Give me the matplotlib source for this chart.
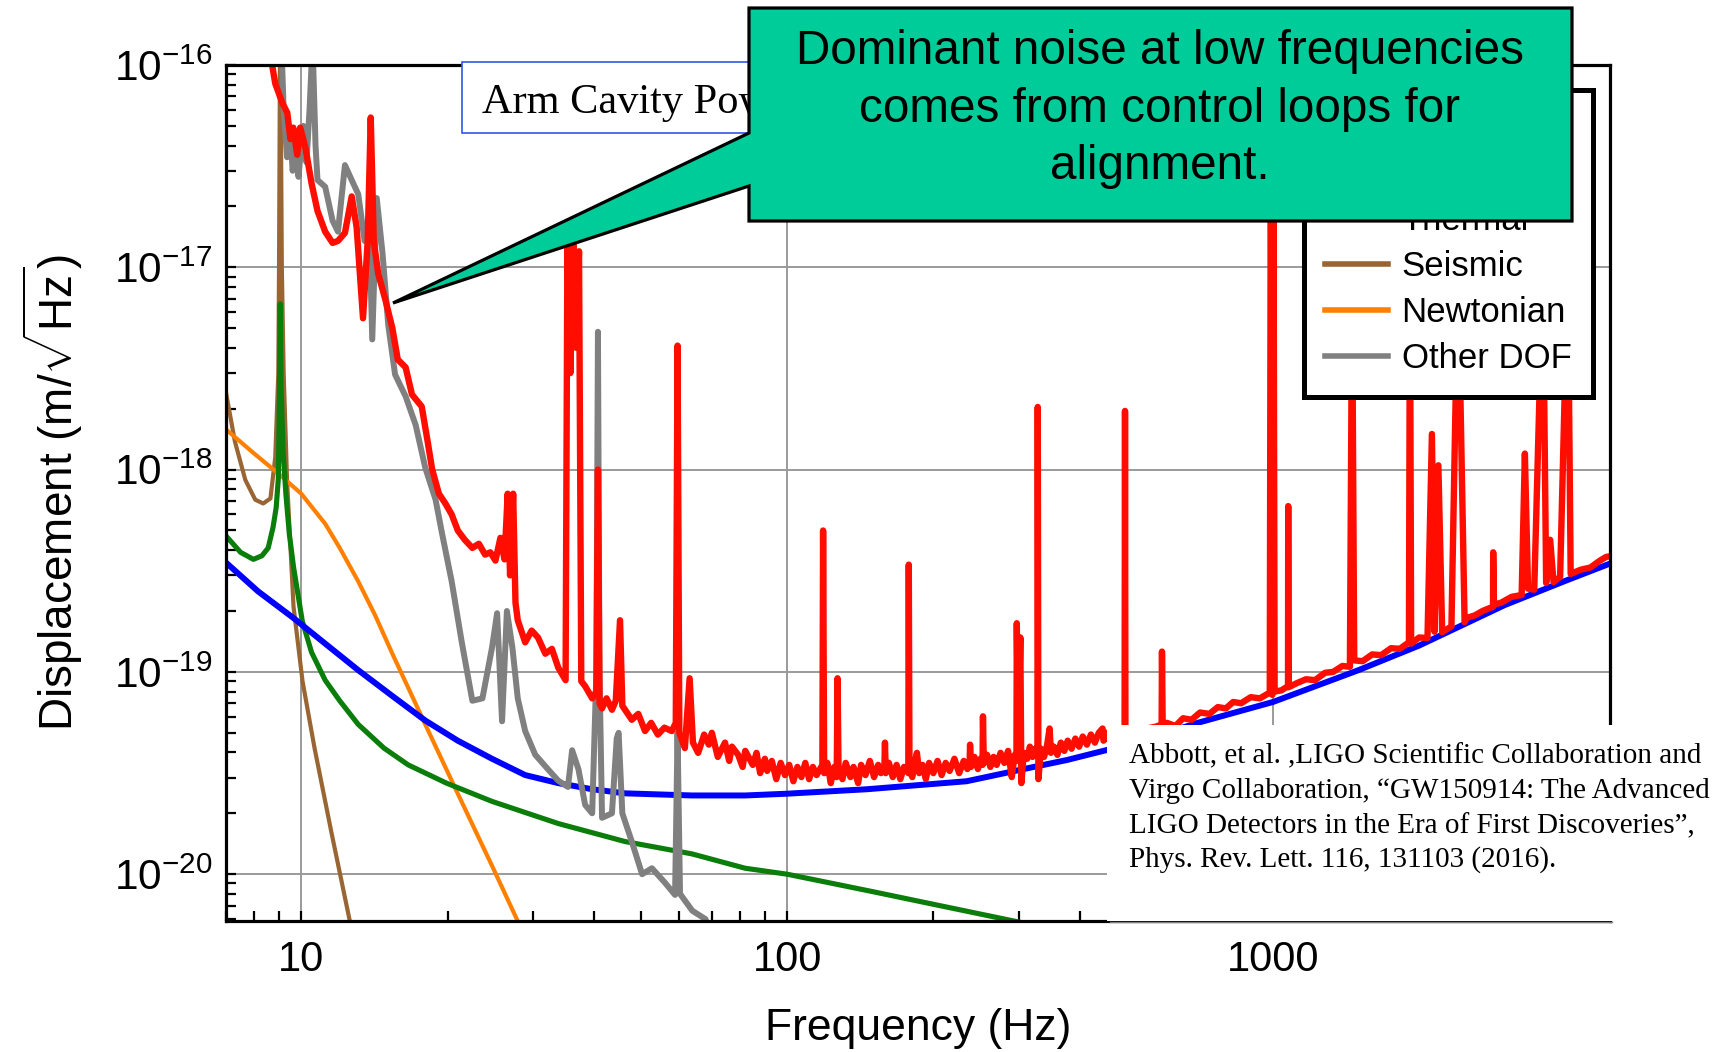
import numpy as np
import matplotlib
matplotlib.use('Agg')
import matplotlib.pyplot as plt
from matplotlib.patches import Polygon, Rectangle
from matplotlib.lines import Line2D
from matplotlib.ticker import FixedLocator, FixedFormatter, LogLocator, NullFormatter

# ---------------- data ----------------
seis_f = [7.0, 7.3, 7.67, 8.04, 8.35, 8.64, 8.84, 8.97, 9.0, 9.05, 9.12, 9.2, 9.35,
          9.64, 10.06, 10.65, 11.53, 12.6, 13.0]
seis_v = [2.4e-18, 1.38e-18, 8.9e-19, 7.1e-19, 6.8e-19, 7.2e-19, 1.15e-18, 3.0e-18, 1.0e-17,
          2.0e-16, 1.0e-17, 3.0e-18, 8.8e-19, 2.1e-19, 9.0e-20, 4.2e-20, 1.62e-20, 5.8e-21, 3.6e-21]

newt_f = [7.0, 8.0, 9.0, 10.0, 11.2, 12.0, 13.1, 14.2, 15.4, 18.0, 21.0, 24.7, 28.0, 29.0]
newt_v = [1.58e-18, 1.2e-18, 9.5e-19, 7.6e-19, 5.4e-19, 4.1e-19, 2.8e-19, 1.9e-19, 1.23e-19,
          5.5e-20, 2.5e-20, 1.1e-20, 5.75e-21, 4.9e-21]

therm_f = [7.0, 7.5, 7.97, 8.3, 8.55, 8.75, 8.88, 8.97, 9.02, 9.05, 9.09, 9.18, 9.3, 9.45,
           9.64, 10.05, 10.5, 11.2, 12.0, 13.1, 14.8, 16.6, 19.9, 24.7, 33.8, 46.4, 63.7,
           82.0, 100.0, 150.0, 200.0, 300.0]
therm_v = [4.7e-19, 3.9e-19, 3.6e-19, 3.75e-19, 4.1e-19, 5.2e-19, 6.5e-19, 9.0e-19, 2.5e-18,
           6.6e-18, 2.5e-18, 1.2e-18, 7.5e-19, 4.8e-19, 3.3e-19, 1.78e-19, 1.25e-19, 9.1e-20,
           7.2e-20, 5.5e-20, 4.2e-20, 3.47e-20, 2.82e-20, 2.29e-20, 1.78e-20, 1.45e-20,
           1.26e-20, 1.07e-20, 1.0e-20, 8.2e-21, 7.1e-21, 5.8e-21]

quant_f = [7.0, 8.15, 9.6, 11.2, 13.1, 15.4, 18.0, 21.0, 24.7, 28.9, 33.8, 39.7, 46.4, 63.7,
           82.0, 100.0, 146.0, 234.0, 320.0, 377.0, 500.0, 700.0, 1000.0, 1500.0, 2000.0,
           3000.0, 4000.0, 5000.0]
quant_v = [3.47e-19, 2.5e-19, 1.86e-19, 1.38e-19, 1.02e-19, 7.6e-20, 5.75e-20, 4.57e-20,
           3.72e-20, 3.09e-20, 2.82e-20, 2.63e-20, 2.51e-20, 2.45e-20, 2.45e-20, 2.5e-20,
           2.63e-20, 2.88e-20, 3.38e-20, 3.67e-20, 4.35e-20, 5.6e-20, 7.1e-20, 1.02e-19,
           1.35e-19, 2.14e-19, 2.82e-19, 3.47e-19]

other_f = [9.1, 9.2, 9.35, 9.5, 9.6, 9.75, 9.87, 10.0, 10.1, 10.25, 10.4, 10.55, 10.7, 10.8,
           11.2, 11.6, 11.9, 12.3, 12.7, 13.1, 13.5, 13.8, 14.0, 14.3, 14.7, 15.1, 15.6,
           16.4, 17.2, 18.0, 18.9, 19.5, 20.4, 21.4, 22.5, 23.6, 24.7, 25.3, 25.9, 26.5,
           27.2, 27.9, 28.9, 30.3, 32.2, 33.8, 35.4, 36.1, 37.2, 38.4, 39.7, 40.5, 40.8,
           41.1, 41.6, 43.6, 44.6, 45.0, 45.8, 47.9, 50.3, 52.7, 56.0, 58.8, 59.5, 60.2,
           63.8, 67.9, 70.0]
other_v = [1.3e-16, 6.0e-17, 3.5e-17, 4.5e-17, 3.0e-17, 4.2e-17, 2.8e-17, 4.0e-17, 5.0e-17,
           3.3e-17, 6.0e-17, 1.3e-16, 4.0e-17, 2.7e-17, 2.5e-17, 1.7e-17, 1.5e-17, 3.2e-17,
           2.7e-17, 2.3e-17, 1.35e-17, 1.6e-17, 4.4e-18, 2.2e-17, 1.17e-17, 5.2e-18, 2.95e-18,
           2.3e-18, 1.66e-18, 1.02e-18, 7.1e-19, 4.8e-19, 2.8e-19, 1.4e-19, 7.2e-20, 7.4e-20,
           1.32e-19, 1.95e-19, 5.7e-20, 2.0e-19, 1.32e-19, 7.4e-20, 5.1e-20, 3.9e-20, 3.3e-20,
           2.9e-20, 2.7e-20, 4.1e-20, 3.3e-20, 2.2e-20, 2.0e-20, 1.0e-19, 4.8e-18, 1.0e-19,
           1.9e-20, 2.0e-20, 4.7e-20, 5.0e-20, 2.0e-20, 1.45e-20, 1.0e-20, 1.07e-20, 9.1e-21,
           7.9e-21, 5.0e-20, 8.0e-21, 6.6e-21, 6.0e-21, 5.0e-21]

meas_f = [8.6, 8.84, 9.14, 9.36, 9.5, 9.63, 9.81, 9.95, 10.2, 10.5, 10.8, 11.2, 11.6, 11.9,
          12.3, 12.7, 13.0, 13.4, 13.7, 13.9, 14.1, 14.4, 14.9, 15.4, 15.8, 16.4, 16.9,
          17.7, 18.2, 18.6, 19.2, 19.8, 20.4, 21.0, 21.7, 22.5, 23.2, 23.9, 24.5, 25.1,
          25.7, 26.2, 26.6, 26.9, 27.3, 27.6, 27.9, 28.9, 29.8, 30.7, 31.8, 32.8, 33.8,
          35.0, 35.3, 35.8, 36.3, 36.8, 37.3, 37.7, 38.4, 39.7, 40.5, 40.8, 41.1, 41.6,
          42.5, 43.6, 44.4, 45.3, 45.8, 46.8, 47.9, 49.4, 51.0, 52.5, 54.2, 55.9, 57.9,
          59.0, 59.5, 60.0, 61.6, 63.0, 64.0, 65.6, 67.5, 69.0, 70.0, 72.0, 74.5, 76.0,
          77.0, 79.3, 81.0, 82.0, 85.0, 86.5, 88.0, 90.0, 91.0, 93.0, 95.0, 97.0, 99.0,
          101.0, 103.0, 105.0, 107.0, 109.0, 111.0, 113.0, 115.0, 118.2, 118.6, 119.2,
          121.0, 123.0, 125.0, 126.5, 127.0, 127.6, 130.0, 132.0, 135.0, 137.0, 140.0,
          142.0, 145.0, 148.0, 151.0, 154.0, 156.0, 158.6, 159.0, 159.6, 162.0, 165.0,
          168.0, 171.0, 174.0, 177.6, 178.0, 178.6, 181.0, 183.0, 185.0, 187.0, 190.0,
          193.0, 196.0, 200.0, 204.0, 208.0, 212.0, 216.0, 221.0, 226.0, 231.0, 235.0,
          237.5, 238.0, 239.0, 243.0, 247.0, 250.0, 252.5, 253.0, 254.0, 258.0, 262.0,
          266.0, 270.0, 275.0, 280.0, 285.0, 290.0, 294.0, 296.5, 297.0, 299.0, 302.0,
          303.5, 307.0, 312.0, 316.0, 320.0, 324.0, 327.5, 328.0, 329.0, 333.0, 338.0,
          343.0, 347.0, 349.0, 354.0, 360.0, 366.0, 372.0, 378.0, 385.0, 392.0, 399.0,
          406.0, 414.0, 422.0, 430.0, 438.0, 446.0, 448.0, 455.0, 463.0, 471.0, 480.0,
          488.0, 495.0, 496.0, 497.0, 505.0, 520.0, 550.0, 575.0, 590.0, 591.0, 593.0,
          605.0, 630.0, 653.0, 680.0, 708.0, 740.0, 770.0, 800.0, 828.0, 860.0, 900.0,
          940.0, 985.0, 990.0, 997.0, 1002.0, 1008.0, 1040.0, 1074.0, 1075.0, 1077.0,
          1120.0, 1170.0, 1220.0, 1280.0, 1330.0, 1390.0, 1440.0, 1455.0, 1470.0, 1530.0,
          1600.0, 1670.0, 1750.0, 1824.0, 1905.0, 1914.0, 1925.0, 2000.0, 2080.0, 2124.0,
          2150.0, 2190.0, 2230.0, 2330.0, 2404.0, 2480.0, 2506.0, 2600.0, 2700.0, 2838.0,
          2840.0, 2850.0, 2950.0, 3100.0, 3250.0, 3300.0, 3350.0, 3450.0, 3594.0, 3650.0,
          3720.0, 3780.0, 3900.0, 4045.0, 4100.0, 4300.0, 4500.0, 4710.0, 4850.0, 5000.0]
meas_v = [1.2e-16, 8.1e-17, 6.5e-17, 5.8e-17, 4.3e-17, 4.9e-17, 3.6e-17, 4.9e-17, 3.9e-17,
          2.6e-17, 1.9e-17, 1.5e-17, 1.32e-17, 1.35e-17, 1.48e-17, 2.24e-17, 1.58e-17,
          5.6e-18, 1.35e-17, 5.5e-17, 1.35e-17, 9.3e-18, 6.9e-18, 5.0e-18, 3.5e-18, 3.2e-18,
          2.35e-18, 2.05e-18, 1.38e-18, 1.0e-18, 7.6e-19, 6.8e-19, 6.0e-19, 5.0e-19, 4.5e-19,
          4.1e-19, 4.3e-19, 3.8e-19, 3.9e-19, 3.55e-19, 4.6e-19, 3.6e-19, 7.6e-19, 3.0e-19,
          7.6e-19, 2.2e-19, 1.8e-19, 1.4e-19, 1.6e-19, 1.48e-19, 1.23e-19, 1.3e-19, 1.05e-19,
          9.1e-20, 1.25e-17, 3.0e-18, 1.3e-17, 4.0e-18, 1.2e-17, 9.0e-20, 8.5e-20, 7.4e-20,
          8.0e-20, 1.0e-18, 7.0e-20, 6.6e-20, 7.4e-20, 6.5e-20, 7.2e-20, 1.8e-19, 6.8e-20,
          6.3e-20, 5.8e-20, 6.2e-20, 5.1e-20, 5.6e-20, 4.9e-20, 5.3e-20, 5.1e-20, 5.6e-20,
          4.1e-18, 5.0e-20, 4.2e-20, 9.3e-20, 4.47e-20, 3.98e-20, 4.9e-20, 4.37e-20,
          5.0e-20, 3.8e-20, 4.47e-20, 3.63e-20, 4.27e-20, 3.89e-20, 3.39e-20, 4.07e-20,
          3.47e-20, 3.98e-20, 3.16e-20, 3.72e-20, 3.24e-20, 3.63e-20, 2.95e-20, 3.55e-20,
          3.09e-20, 3.47e-20, 2.88e-20, 3.39e-20, 3.02e-20, 3.55e-20, 2.95e-20, 3.39e-20,
          3.09e-20, 3.47e-20, 5.0e-19, 3.16e-20, 3.55e-20, 2.82e-20, 3.39e-20, 3.02e-20,
          9.3e-20, 3.31e-20, 2.95e-20, 3.55e-20, 3.02e-20, 3.39e-20, 2.82e-20, 3.47e-20,
          3.09e-20, 3.63e-20, 3.02e-20, 3.47e-20, 3.16e-20, 3.39e-20, 4.47e-20, 3.16e-20,
          3.55e-20, 3.02e-20, 3.47e-20, 2.95e-20, 3.39e-20, 3.16e-20, 3.39e-19, 3.31e-20,
          3.02e-20, 3.55e-20, 3.98e-20, 3.16e-20, 3.47e-20, 2.95e-20, 3.55e-20, 3.16e-20,
          3.63e-20, 3.09e-20, 3.55e-20, 3.24e-20, 3.72e-20, 3.16e-20, 3.63e-20, 3.31e-20,
          3.55e-20, 4.37e-20, 3.39e-20, 3.8e-20, 3.31e-20, 3.72e-20, 3.47e-20, 6.03e-20,
          3.55e-20, 3.89e-20, 3.39e-20, 3.8e-20, 3.47e-20, 3.98e-20, 3.55e-20, 4.07e-20,
          3.02e-20, 3.89e-20, 3.63e-20, 1.74e-19, 3.98e-20, 1.48e-19, 2.82e-20, 3.98e-20,
          3.72e-20, 4.27e-20, 3.8e-20, 4.17e-20, 3.98e-20, 2.04e-18, 2.95e-20, 4.17e-20,
          3.8e-20, 4.37e-20, 5.25e-20, 3.98e-20, 4.27e-20, 3.89e-20, 4.47e-20, 4.07e-20,
          4.57e-20, 4.17e-20, 4.68e-20, 4.27e-20, 4.79e-20, 4.37e-20, 4.9e-20, 4.47e-20,
          5.0e-20, 5.25e-20, 4.57e-20, 5.0e-20, 4.47e-20, 5.13e-20, 4.68e-20, 5.25e-20,
          4.79e-20, 1.95e-18, 4.68e-20, 5.25e-20, 4.9e-20, 5.25e-20, 5.37e-20, 5.5e-20,
          1.26e-19, 5.37e-20, 5.6e-20, 5.4e-20, 5.9e-20, 5.8e-20, 6.3e-20, 6.2e-20, 6.7e-20,
          6.6e-20, 7.1e-20, 7.0e-20, 7.5e-20, 7.4e-20, 7.9e-20, 5.0e-17, 7.7e-20, 5.0e-17,
          8.0e-20, 8.1e-20, 8.5e-20, 6.6e-19, 8.4e-20, 8.8e-20, 9.2e-20, 9.1e-20, 9.9e-20,
          1.0e-19, 1.07e-19, 1.06e-19, 8.0e-18, 1.14e-19, 1.13e-19, 1.22e-19, 1.21e-19,
          1.31e-19, 1.3e-19, 1.4e-19, 1.0e-17, 1.38e-19, 1.48e-19, 1.47e-19, 1.5e-18,
          1.58e-19, 1.05e-18, 1.57e-19, 1.68e-19, 1.0e-17, 1.76e-19, 1.85e-19, 1.9e-19,
          2.0e-19, 2.1e-19, 3.9e-19, 2.15e-19, 2.2e-19, 2.35e-19, 2.4e-19, 1.2e-18, 2.58e-19,
          2.55e-19, 1.0e-17, 2.75e-19, 4.5e-19, 2.78e-19, 2.95e-19, 1.0e-17, 3.05e-19,
          3.2e-19, 3.28e-19, 3.55e-19, 3.7e-19, 3.75e-19]

x_ticks = [10, 100, 1000]
x_tick_labels = ['10', '100', '1000']
y_ticks = [1e-20, 1e-19, 1e-18, 1e-17, 1e-16]
y_tick_labels = [r'$\mathregular{10^{-20}}$', r'$\mathregular{10^{-19}}$',
                 r'$\mathregular{10^{-18}}$', r'$\mathregular{10^{-17}}$',
                 r'$\mathregular{10^{-16}}$']
legend_labels = ['Measured', 'Quantum', 'Thermal', 'Seismic', 'Newtonian', 'Other DOF']

# ---------------- style ----------------
plt.rcParams['font.family'] = ['Liberation Sans', 'DejaVu Sans']
plt.rcParams['mathtext.fontset'] = 'custom'
plt.rcParams['mathtext.rm'] = 'Liberation Sans'
plt.rcParams['mathtext.it'] = 'Liberation Sans:italic'
plt.rcParams['mathtext.bf'] = 'Liberation Sans:bold'

C_RED = '#ff0d00'
C_GRAY = '#808080'
C_BROWN = '#996633'
C_ORANGE = '#ff8000'
C_GREEN = '#0b7d0b'
C_BLUE = '#0000ff'

W, H = 1736, 1052
fig = plt.figure(figsize=(W / 100, H / 100), dpi=100, facecolor='white')


def fx(p):
    return p / W


def fy(p):
    return 1 - p / H


ax = fig.add_axes([fx(226), fy(921), fx(1610) - fx(226), fy(65) - fy(921)])
ax.set_xscale('log')
ax.set_yscale('log')

ax.plot(seis_f, seis_v, color=C_BROWN, lw=3.0, zorder=2)
ax.plot(newt_f, newt_v, color=C_ORANGE, lw=3.0, zorder=2.1)
ax.plot(therm_f, therm_v, color=C_GREEN, lw=3.7, zorder=2.2)
ax.plot(quant_f, quant_v, color=C_BLUE, lw=4.3, zorder=2.3)
ax.plot(other_f, other_v, color=C_GRAY, lw=4.3, zorder=2.4)
ax.plot(meas_f, meas_v, color=C_RED, lw=4.6, zorder=2.5)

ax.set_xlim(7.0, 4940)
ax.set_ylim(5.87e-21, 1e-16)

ax.xaxis.set_major_locator(FixedLocator(x_ticks))
ax.xaxis.set_major_formatter(FixedFormatter(x_tick_labels))
ax.xaxis.set_minor_locator(LogLocator(base=10, subs=np.arange(2, 10), numticks=30))
ax.xaxis.set_minor_formatter(NullFormatter())
ax.yaxis.set_major_locator(FixedLocator(y_ticks))
ax.yaxis.set_major_formatter(FixedFormatter(y_tick_labels))
ax.yaxis.set_minor_locator(LogLocator(base=10, subs=np.arange(2, 10), numticks=30))
ax.yaxis.set_minor_formatter(NullFormatter())

ax.tick_params(axis='both', which='both', direction='in', top=False, right=False,
               length=7.5, width=1.6, color='black')
ax.tick_params(axis='x', which='major', labelsize=30, pad=14)
ax.tick_params(axis='y', which='major', labelsize=30.5, pad=10)

ax.grid(True, which='major', color='#9a9a9a', lw=1.4)
ax.set_axisbelow(True)
for s in ax.spines.values():
    s.set_linewidth(2.3)
    s.set_color('black')

ax.set_xlabel('Frequency (Hz)', fontsize=32)
ax.xaxis.set_label_coords(0.5, -0.1016)
ax.set_ylabel(r'Displacement (m/$\sqrt{\mathrm{Hz}}$)', fontsize=33)
ax.yaxis.set_label_coords(-0.1017, 0.5)

handles = [Line2D([], [], color=c, lw=4.0) for c in
           [C_RED, C_BLUE, C_GREEN, C_BROWN, C_ORANGE, C_GRAY]]
leg = ax.legend(handles, legend_labels, loc='upper right',
                bbox_to_anchor=(fx(1593), fy(90)), bbox_transform=fig.transFigure,
                borderaxespad=0, fontsize=25, frameon=True, fancybox=False,
                edgecolor='black', framealpha=1, borderpad=0.62, labelspacing=0.38,
                handlelength=1.8, handletextpad=0.4)
leg.get_frame().set_linewidth(3.6)
leg.set_zorder(5)
# the first two entries sit under the call-out box in the slide
for t in leg.get_texts()[:2]:
    t.set_visible(False)

# ---------------- overlays (slide annotations) ----------------
blue_box = Rectangle((fx(462), fy(133)), fx(1000) - fx(462), fy(62) - fy(133),
                     transform=fig.transFigure, facecolor='white', edgecolor='#3355ee',
                     lw=1.2, zorder=20)
fig.add_artist(blue_box)
fig.text(fx(482), fy(113), 'Arm Cavity Pow', family=['Liberation Serif'],
         fontsize=30.5, va='baseline', ha='left', zorder=21)

callout_pts = [(749, 8), (1572, 8), (1572, 221), (749, 221), (749, 186), (393, 303),
               (749, 133)]
callout = Polygon([(fx(x), fy(y)) for x, y in callout_pts], closed=True,
                  transform=fig.transFigure, facecolor='#00cc99', edgecolor='black',
                  lw=2.3, joinstyle='miter', zorder=30)
fig.add_artist(callout)
callout_lines = ['Dominant noise at low frequencies', 'comes from control loops for',
                 'alignment.']
for txt, yb in zip(callout_lines, [64, 122, 179]):
    fig.text(fx(1160), fy(yb), txt, ha='center', va='baseline', fontsize=34.3,
             color='black', zorder=31)

cite_box = Rectangle((fx(1107), fy(921)), fx(1736) - fx(1107), fy(725) - fy(921),
                     transform=fig.transFigure, facecolor='white', edgecolor='none',
                     zorder=25)
fig.add_artist(cite_box)
fig.add_artist(Line2D([fx(1110), fx(1612)], [fy(922), fy(922)], color='#7f7f7f', lw=1.0,
                      transform=fig.transFigure, zorder=26))
cite_lines = ['Abbott, et al. ,LIGO Scientific Collaboration and',
              'Virgo Collaboration, \u201cGW150914: The Advanced',
              'LIGO Detectors in the Era of First Discoveries\u201d,',
              'Phys. Rev. Lett. 116, 131103 (2016).']
for txt, yb in zip(cite_lines, [763, 798, 833, 867]):
    fig.text(fx(1129), fy(yb), txt, ha='left', va='baseline', fontsize=21,
             family=['Liberation Serif'], color='black', zorder=27)

fig.savefig('out.png', dpi=100, facecolor='white')
